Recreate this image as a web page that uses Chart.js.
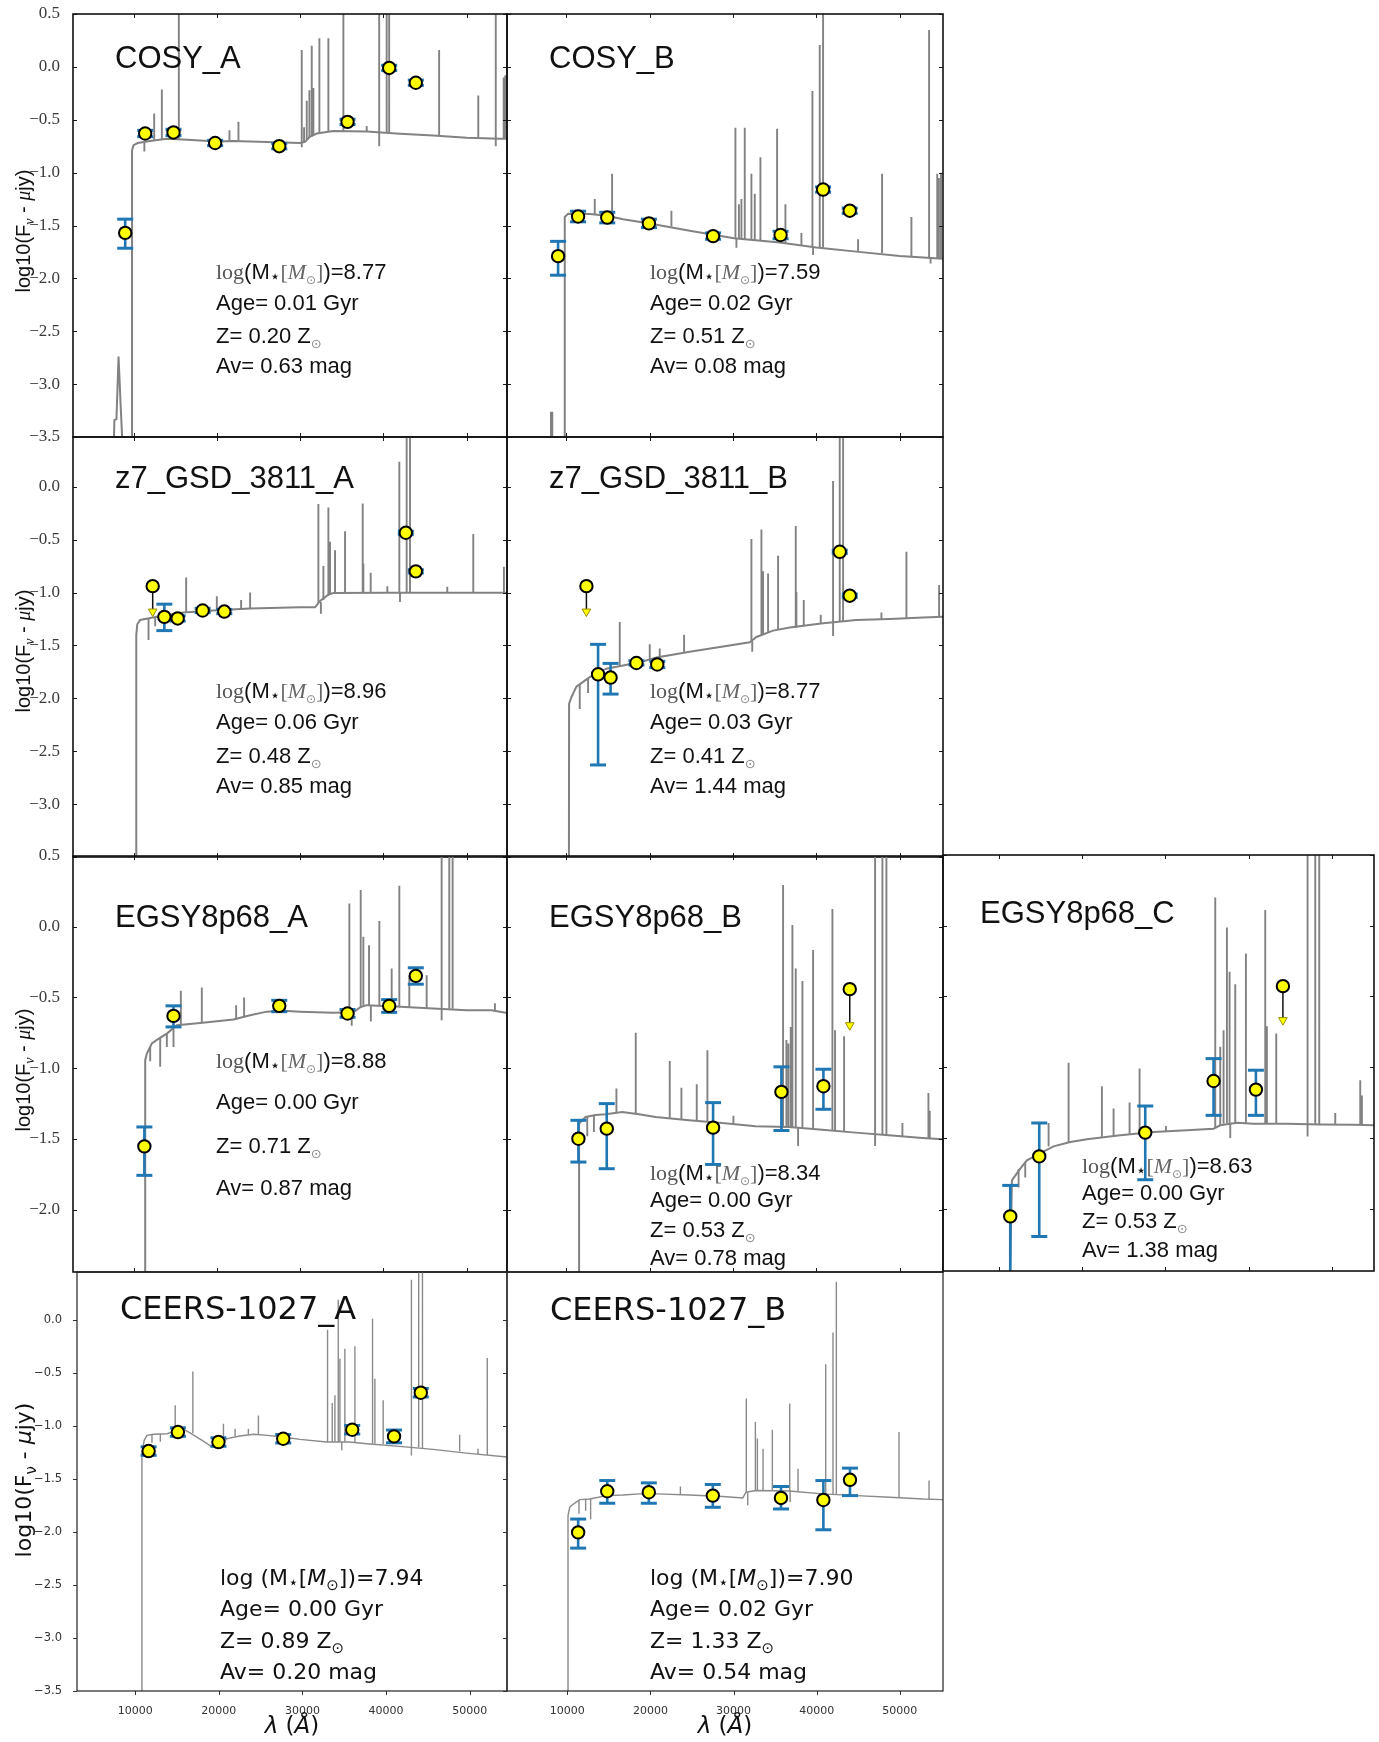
<!DOCTYPE html>
<html>
<head>
<meta charset="utf-8">
<title>SED fits</title>
<script src="https://cdn.jsdelivr.net/npm/chart.js@4.4.1/dist/chart.umd.min.js"></script>
<style>
  html, body { margin: 0; padding: 0; background: #fff; }
  #fig { position: relative; width: 1379px; height: 1742px; overflow: hidden; background: #fff; }
  #fig canvas { position: absolute; }
</style>
</head>
<body>
<div id="fig"></div>
<script>
// ---------------- shared axis ticks ----------------
const X_TICKS = [10000, 20000, 30000, 40000, 50000];
const Y_MARKS_FULL = [0.5, 0.0, -0.5, -1.0, -1.5, -2.0, -2.5, -3.0, -3.5];
const Y_MARKS_SHORT = [0.5, 0.0, -0.5, -1.0, -1.5, -2.0];
const Y_MARKS_LOW = [0.0, -0.5, -1.0, -1.5, -2.0, -2.5, -3.0, -3.5];

// ---------------- fit parameters ----------------
const panelNames = ['COSY_A', 'COSY_B', 'z7_GSD_3811_A', 'z7_GSD_3811_B',
  'EGSY8p68_A', 'EGSY8p68_B', 'EGSY8p68_C', 'CEERS-1027_A', 'CEERS-1027_B'];
const stellarMass = ['8.77', '7.59', '8.96', '8.77', '8.88', '8.34', '8.63', '7.94', '7.90'];
const ageGyr      = ['0.01', '0.02', '0.06', '0.03', '0.00', '0.00', '0.00', '0.00', '0.02'];
const metallicity = ['0.20', '0.51', '0.48', '0.41', '0.71', '0.53', '0.53', '0.89', '1.33'];
const dustAv      = ['0.63', '0.08', '0.85', '1.44', '0.87', '0.78', '1.38', '0.20', '0.54'];

// ---------------- COSY_A ----------------
const cosyA_contL = [7600, 7700, 7950, 8200, 8450, 8750, 9820, 9820, 10000, 10500, 12000, 14000, 16500, 20000, 22000, 26000, 30000, 30600, 31200, 32000, 34000, 38000, 42000, 46000, 50000, 54000, 54900];
const cosyA_contF = [-3.7, -3.34, -3.33, -2.74, -3.2, -3.7, -3.7, -0.79, -0.74, -0.72, -0.70, -0.68, -0.69, -0.705, -0.70, -0.71, -0.72, -0.71, -0.66, -0.63, -0.607, -0.61, -0.633, -0.65, -0.67, -0.68, -0.68];
const cosyA_lines = [[11300,-0.71,-0.80],[12480,-0.70,-0.44],[13400,-0.69,-0.215],[15440,-0.68,0.7],[21520,-0.70,-0.60],[22600,-0.70,-0.52],[30200,-0.72,0.16],[30200,-0.72,-0.76],[30480,-0.71,-0.57],[30800,-0.69,-0.32],[31120,-0.67,-0.22],[31400,-0.66,0.20],[31600,-0.65,-0.20],[32320,-0.63,0.27],[33400,-0.61,0.27],[35200,-0.605,0.7],[38000,-0.61,-0.56],[39500,-0.62,0.7],[39500,-0.62,-0.75],[40400,-0.625,0.7],[40700,-0.625,0.7],[46700,-0.65,0.16],[51400,-0.67,-0.27],[53500,-0.675,0.7],[53500,-0.675,-0.75],[54450,-0.68,-0.10],[54650,-0.68,-0.08]];
const cosyA_photL  = [9000, 11400, 14800, 19800, 27500, 35700, 40700, 43900];
const cosyA_photF  = [-1.57, -0.63, -0.62, -0.72, -0.75, -0.52, -0.01, -0.15];
const cosyA_photLo = [-1.715, -0.66, -0.65, -0.745, -0.775, -0.545, -0.035, -0.175];
const cosyA_photHi = [-1.44, -0.60, -0.59, -0.695, -0.725, -0.495, 0.015, -0.125];

// ---------------- COSY_B ----------------
const cosyB_contL = [7600, 8150, 8150, 8300, 8300, 9800, 9800, 10200, 12800, 14000, 15000, 16800, 20000, 24800, 30100, 35600, 40000, 44800, 50000, 55200];
const cosyB_contF = [-3.7, -3.7, -3.27, -3.27, -3.7, -3.7, -1.42, -1.39, -1.392, -1.40, -1.41, -1.44, -1.481, -1.55, -1.62, -1.66, -1.709, -1.747, -1.788, -1.815];
const cosyB_lines = [[13400,-1.40,-1.25],[15480,-1.41,-1.01],[22600,-1.51,-1.36],[30280,-1.62,-0.576],[30400,-1.62,-1.71],[30700,-1.625,-1.30],[31000,-1.63,-1.25],[31400,-1.63,-0.576],[32200,-1.635,-1.01],[32600,-1.64,-1.20],[33280,-1.64,-0.854],[35280,-1.66,-0.585],[36280,-1.67,-1.30],[38200,-1.69,-1.57],[39520,-1.70,-0.228],[39600,-1.70,-1.78],[40400,-1.705,0.206],[40800,-1.71,0.7],[45000,-1.75,-1.63],[47880,-1.76,-1.01],[51400,-1.79,-1.42],[53520,-1.80,0.348],[53700,-1.80,-1.86],[54500,-1.81,-1.01],[54700,-1.81,-1.05],[54950,-1.815,-1.0]];
const cosyB_photL  = [9000, 11400, 14900, 19900, 27600, 35700, 40800, 44000];
const cosyB_photF  = [-1.79, -1.415, -1.425, -1.48, -1.60, -1.59, -1.16, -1.36];
const cosyB_photLo = [-1.97, -1.465, -1.475, -1.52, -1.63, -1.625, -1.185, -1.385];
const cosyB_photHi = [-1.65, -1.365, -1.375, -1.44, -1.57, -1.555, -1.135, -1.335];

// ---------------- z7_GSD_3811_A ----------------
const z7A_contL = [10300, 10330, 10450, 10800, 12800, 16000, 20000, 24000, 30000, 31800, 32400, 33400, 34000, 40000, 50000, 55000];
const z7A_contF = [-3.7, -1.40, -1.30, -1.26, -1.23, -1.19, -1.167, -1.15, -1.14, -1.14, -1.08, -1.02, -1.005, -1.003, -1.003, -1.003];
const z7A_lines = [[11800,-1.25,-1.45],[12600,-1.23,-1.32],[16320,-1.19,-0.858],[20000,-1.167,-1.035],[22920,-1.16,-1.07],[24000,-1.15,-1.0],[32200,-1.10,-0.164],[32500,-1.09,-1.20],[32800,-1.07,-0.75],[33400,-1.03,-0.196],[33600,-1.02,-0.52],[34200,-1.005,-0.60],[35400,-1.003,-0.42],[37520,-1.003,-0.158],[37600,-1.003,-0.726],[38480,-1.003,-0.814],[40480,-1.003,-0.94],[41920,-1.003,0.237],[42000,-1.003,-1.09],[42800,-1.003,0.7],[43200,-1.003,0.7],[47680,-1.003,-0.946],[50800,-1.003,-0.448],[54480,-1.003,-0.757]];
const z7A_photL  = [13700, 15300, 18300, 20900, 42700, 43900];
const z7A_photF  = [-1.23, -1.245, -1.17, -1.18, -0.435, -0.80];
const z7A_photLo = [-1.36, -1.27, -1.19, -1.20, -0.45, -0.815];
const z7A_photHi = [-1.11, -1.22, -1.15, -1.16, -0.42, -0.785];
const z7A_ulL = [12300];
const z7A_ulF = [-0.94];
const z7A_ulTip = [-1.18];

// ---------------- z7_GSD_3811_B ----------------
const z7B_contL = [10300, 10320, 10600, 11200, 12000, 12800, 14000, 14800, 16800, 18800, 20800, 24800, 28800, 32000, 32800, 34800, 36800, 40800, 44800, 48800, 52800, 55200];
const z7B_contF = [-3.7, -2.05, -1.99, -1.89, -1.845, -1.80, -1.75, -1.72, -1.69, -1.66, -1.615, -1.56, -1.51, -1.47, -1.42, -1.36, -1.33, -1.29, -1.26, -1.25, -1.235, -1.23];
const z7B_lines = [[11600,-1.87,-2.10],[12600,-1.81,-1.95],[16400,-1.70,-1.278],[20000,-1.63,-1.49],[21200,-1.61,-1.53],[24120,-1.57,-1.40],[32200,-1.46,-0.495],[32300,-1.46,-1.56],[33400,-1.40,-0.404],[33600,-1.40,-0.80],[34200,-1.38,-0.82],[35400,-1.35,-0.653],[37520,-1.33,-0.372],[37600,-1.33,-0.994],[38480,-1.32,-1.07],[40520,-1.29,-1.21],[42000,-1.28,0.054],[42000,-1.28,-1.41],[42800,-1.275,0.7],[43200,-1.27,0.7],[47800,-1.255,-1.19],[50800,-1.245,-0.615],[54720,-1.23,-0.93]];
const z7B_photL  = [13800, 15300, 18400, 20900, 42800, 44000];
const z7B_photF  = [-1.773, -1.804, -1.666, -1.68, -0.615, -1.03];
const z7B_photLo = [-2.63, -1.96, -1.685, -1.71, -0.63, -1.045];
const z7B_photHi = [-1.49, -1.67, -1.645, -1.65, -0.60, -1.015];
const z7B_ulL = [12400];
const z7B_ulF = [-0.94];
const z7B_ulTip = [-1.18];

// ---------------- EGSY8p68_A ----------------
const egsyA_contL = [11400, 11400, 11600, 12200, 12800, 14000, 15200, 18000, 20000, 22000, 24000, 26000, 28000, 30000, 34000, 36400, 37200, 38000, 42000, 46000, 50000, 53000, 54900];
const egsyA_contF = [-2.6, -0.943, -0.896, -0.825, -0.80, -0.755, -0.696, -0.68, -0.668, -0.656, -0.625, -0.60, -0.594, -0.60, -0.608, -0.604, -0.57, -0.554, -0.566, -0.577, -0.59, -0.59, -0.61];
const egsyA_lines = [[12000,-0.85,-0.95],[13200,-0.78,-0.99],[14000,-0.755,-0.85],[14800,-0.72,-0.85],[15680,-0.69,-0.453],[18200,-0.675,-0.43],[22320,-0.655,-0.554],[23280,-0.64,-0.50],[35920,-0.605,0.165],[36200,-0.605,-0.70],[37280,-0.57,0.259],[37600,-0.565,-0.07],[38280,-0.555,-0.13],[38500,-0.555,-0.67],[39520,-0.558,0.04],[41000,-0.563,-0.295],[41920,-0.566,0.29],[43120,-0.57,-0.342],[45200,-0.575,-0.342],[47000,-0.58,0.7],[47000,-0.58,-0.66],[47920,-0.58,0.7],[48320,-0.58,0.7],[53400,-0.59,-0.54]];
const egsyA_photL  = [11300, 14800, 27500, 35700, 40700, 43900];
const egsyA_photF  = [-1.552, -0.63, -0.559, -0.613, -0.559, -0.347];
const egsyA_photLo = [-1.757, -0.708, -0.60, -0.64, -0.605, -0.406];
const egsyA_photHi = [-1.415, -0.559, -0.52, -0.585, -0.515, -0.29];

// ---------------- EGSY8p68_B ----------------
const egsyB_contL = [11520, 11520, 12300, 13500, 14700, 16700, 18700, 20700, 24700, 28700, 32700, 36700, 40700, 44700, 48700, 52700, 55200];
const egsyB_contF = [-2.6, -1.39, -1.344, -1.33, -1.325, -1.31, -1.325, -1.344, -1.368, -1.387, -1.41, -1.415, -1.434, -1.455, -1.474, -1.493, -1.502];
const egsyB_lines = [[12500,-1.34,-1.48],[13300,-1.33,-1.45],[16000,-1.31,-1.144],[18320,-1.32,-0.75],[22400,-1.35,-0.948],[23800,-1.36,-1.137],[25640,-1.37,-1.113],[26920,-1.38,-0.873],[30040,-1.395,-1.335],[36000,-1.415,0.295],[36400,-1.415,-0.80],[36640,-1.415,-0.825],[36920,-1.415,-0.708],[37120,-1.415,0.012],[37520,-1.42,-0.295],[37800,-1.42,-1.55],[38320,-1.425,-0.384],[39600,-1.43,-0.165],[41920,-1.44,0.125],[42240,-1.44,-0.731],[43320,-1.445,-0.774],[47040,-1.465,0.7],[47040,-1.465,-1.55],[47920,-1.47,0.7],[48400,-1.472,0.7],[50320,-1.48,-1.387],[53440,-1.495,-1.175],[53600,-1.495,-1.30]];
const egsyB_photL  = [11440, 14840, 27600, 35800, 40840];
const egsyB_photF  = [-1.498, -1.427, -1.42, -1.167, -1.127];
const egsyB_photLo = [-1.663, -1.71, -1.68, -1.44, -1.29];
const egsyB_photHi = [-1.368, -1.25, -1.243, -0.99, -1.007];
const egsyB_ulL = [44000];
const egsyB_ulF = [-0.441];
const egsyB_ulTip = [-0.696];

// ---------------- EGSY8p68_C ----------------
const egsyC_contL = [11350, 11600, 12600, 13400, 14900, 16600, 18600, 20600, 24600, 28600, 32600, 35800, 36600, 38600, 40600, 44600, 48600, 52600, 55100];
const egsyC_contF = [-2.6, -1.80, -1.717, -1.658, -1.611, -1.559, -1.528, -1.509, -1.48, -1.458, -1.446, -1.434, -1.41, -1.392, -1.399, -1.399, -1.404, -1.406, -1.41];
const egsyC_lines = [[12400,-1.72,-1.85],[13200,-1.67,-1.78],[16000,-1.56,-1.394],[18400,-1.53,-0.969],[22400,-1.50,-1.134],[23800,-1.49,-1.292],[25720,-1.475,-1.25],[26920,-1.47,-1.009],[30080,-1.455,-1.415],[36000,-1.43,0.2],[36600,-1.41,-0.856],[37000,-1.40,-0.738],[37400,-1.395,-0.012],[37720,-1.395,-0.325],[37800,-1.395,-1.50],[38400,-1.392,-0.413],[39680,-1.395,-0.196],[42000,-1.399,0.111],[42200,-1.399,-0.71],[43320,-1.399,-0.762],[47080,-1.402,0.7],[47080,-1.402,-1.49],[48000,-1.403,0.7],[48480,-1.404,0.7],[50400,-1.405,-1.323],[53400,-1.407,-1.092],[53600,-1.407,-1.20]];
const egsyC_photL  = [11400, 14880, 27600, 35800, 40880];
const egsyC_photF  = [-2.054, -1.63, -1.462, -1.097, -1.158];
const egsyC_photLo = [-2.6, -2.196, -1.795, -1.34, -1.34];
const egsyC_photHi = [-1.835, -1.394, -1.274, -0.939, -1.021];
const egsyC_ulL = [44120];
const egsyC_ulF = [-0.427];
const egsyC_ulTip = [-0.667];

// ---------------- CEERS-1027_A ----------------
const ceersA_contL = [10800, 10800, 11070, 11400, 12200, 13800, 14800, 15600, 16400, 18000, 19200, 20200, 21000, 22500, 24200, 25800, 27700, 29700, 32900, 35600, 37700, 41600, 45600, 49600, 54500];
const ceersA_contF = [-3.7, -1.263, -1.137, -1.09, -1.08, -1.075, -1.05, -1.027, -1.06, -1.137, -1.20, -1.184, -1.12, -1.096, -1.08, -1.09, -1.106, -1.128, -1.153, -1.153, -1.169, -1.194, -1.222, -1.257, -1.294];
const ceersA_lines = [[12000,-1.08,-1.16],[13000,-1.078,-1.15],[14780,-1.05,-0.807],[16890,-1.07,-0.487],[20550,-1.18,-0.98],[21940,-1.10,-1.027],[23530,-1.085,-1.027],[24730,-1.085,-0.902],[33000,-1.153,-0.094],[33560,-1.153,-0.785],[33880,-1.153,-0.713],[34280,-1.153,0.189],[34480,-1.153,-0.368],[34700,-1.153,-1.23],[35070,-1.153,-0.273],[36270,-1.155,-0.251],[38380,-1.17,0.009],[38660,-1.17,-0.556],[39650,-1.175,-0.76],[43030,-1.20,0.377],[43030,-1.20,-1.28],[43900,-1.205,0.7],[44350,-1.21,0.7],[48800,-1.24,-1.084],[50990,-1.265,-1.216],[52100,-1.275,-0.361]];
const ceersA_photL  = [11600, 15100, 19950, 27700, 35950, 40950, 44150];
const ceersA_photF  = [-1.238, -1.059, -1.153, -1.122, -1.037, -1.10, -0.688];
const ceersA_photLo = [-1.278, -1.099, -1.193, -1.162, -1.077, -1.16, -0.728];
const ceersA_photHi = [-1.198, -1.019, -1.113, -1.082, -0.997, -1.04, -0.648];

// ---------------- CEERS-1027_B ----------------
const ceersB_contL = [10080, 10080, 10280, 10680, 11480, 12680, 14690, 16700, 18700, 20700, 24700, 28700, 31100, 31500, 32700, 36700, 40700, 44800, 48800, 52800, 55200];
const ceersB_contF = [-3.7, -1.847, -1.768, -1.74, -1.696, -1.69, -1.658, -1.652, -1.642, -1.642, -1.652, -1.667, -1.68, -1.626, -1.61, -1.615, -1.642, -1.658, -1.673, -1.69, -1.696];
const ceersB_lines = [[11400,-1.70,-1.83],[12200,-1.69,-1.80],[12800,-1.69,-1.88],[23600,-1.645,-1.572],[31530,-1.63,-0.742],[31700,-1.63,-1.75],[32620,-1.61,-0.963],[32860,-1.61,-1.12],[33540,-1.61,-1.216],[34660,-1.612,-1.036],[36750,-1.615,-0.789],[36800,-1.615,-1.72],[37750,-1.62,-1.405],[41080,-1.643,-0.42],[41960,-1.646,-0.12],[42360,-1.648,0.357],[49900,-1.67,-1.058],[53510,-1.69,-1.516]];
const ceersB_photL  = [11300, 14800, 19800, 27500, 35700, 40800, 44000];
const ceersB_photF  = [-2.005, -1.617, -1.626, -1.658, -1.68, -1.699, -1.509];
const ceersB_photLo = [-2.153, -1.73, -1.73, -1.768, -1.784, -1.98, -1.658];
const ceersB_photHi = [-1.879, -1.516, -1.538, -1.553, -1.572, -1.516, -1.399];

// ---------------- per-panel series lookup ----------------
const SERIES = [
  { cL: cosyA_contL, cF: cosyA_contF, lines: cosyA_lines, pL: cosyA_photL, pF: cosyA_photF, pLo: cosyA_photLo, pHi: cosyA_photHi },
  { cL: cosyB_contL, cF: cosyB_contF, lines: cosyB_lines, pL: cosyB_photL, pF: cosyB_photF, pLo: cosyB_photLo, pHi: cosyB_photHi },
  { cL: z7A_contL, cF: z7A_contF, lines: z7A_lines, pL: z7A_photL, pF: z7A_photF, pLo: z7A_photLo, pHi: z7A_photHi, uL: z7A_ulL, uF: z7A_ulF, uT: z7A_ulTip },
  { cL: z7B_contL, cF: z7B_contF, lines: z7B_lines, pL: z7B_photL, pF: z7B_photF, pLo: z7B_photLo, pHi: z7B_photHi, uL: z7B_ulL, uF: z7B_ulF, uT: z7B_ulTip },
  { cL: egsyA_contL, cF: egsyA_contF, lines: egsyA_lines, pL: egsyA_photL, pF: egsyA_photF, pLo: egsyA_photLo, pHi: egsyA_photHi },
  { cL: egsyB_contL, cF: egsyB_contF, lines: egsyB_lines, pL: egsyB_photL, pF: egsyB_photF, pLo: egsyB_photLo, pHi: egsyB_photHi, uL: egsyB_ulL, uF: egsyB_ulF, uT: egsyB_ulTip },
  { cL: egsyC_contL, cF: egsyC_contF, lines: egsyC_lines, pL: egsyC_photL, pF: egsyC_photF, pLo: egsyC_photLo, pHi: egsyC_photHi, uL: egsyC_ulL, uF: egsyC_ulF, uT: egsyC_ulTip },
  { cL: ceersA_contL, cF: ceersA_contF, lines: ceersA_lines, pL: ceersA_photL, pF: ceersA_photF, pLo: ceersA_photLo, pHi: ceersA_photHi },
  { cL: ceersB_contL, cF: ceersB_contF, lines: ceersB_lines, pL: ceersB_photL, pF: ceersB_photF, pLo: ceersB_photLo, pHi: ceersB_photHi }
];

// ---------------- page layout of each panel (pixels) ----------------
const BOX = [
  { l: 73,  r: 507,  t: 14,   b: 437,  xr: [2730, 54850], yr: [-3.5, 0.5],  modern: false, left: true,  xAxis: false, marks: Y_MARKS_FULL,  labels: Y_MARKS_FULL, title: [115, 68],   tx: 216, ty: [279, 310, 343, 373],     yTitle: 231 },
  { l: 507, r: 943,  t: 14,   b: 437,  xr: [2870, 55190], yr: [-3.5, 0.5],  modern: false, left: false, xAxis: false, marks: Y_MARKS_FULL,  title: [549, 68],   tx: 650, ty: [279, 310, 343, 373] },
  { l: 73,  r: 507,  t: 437,  b: 857,  xr: [2730, 54850], yr: [-3.5, 0.47], modern: false, left: true,  xAxis: false, marks: Y_MARKS_FULL,  labels: [0.0, -0.5, -1.0, -1.5, -2.0, -2.5, -3.0], title: [115, 488], tx: 216, ty: [698, 729, 763, 793], yTitle: 651 },
  { l: 507, r: 943,  t: 437,  b: 857,  xr: [2870, 55190], yr: [-3.5, 0.47], modern: false, left: false, xAxis: false, marks: Y_MARKS_FULL,  title: [549, 488],  tx: 650, ty: [698, 729, 763, 793] },
  { l: 73,  r: 507,  t: 856,  b: 1272, xr: [2730, 54850], yr: [-2.44, 0.5], modern: false, left: true,  xAxis: false, marks: Y_MARKS_SHORT, labels: Y_MARKS_SHORT, title: [115, 927], tx: 216, ty: [1068, 1109, 1153, 1195], yTitle: 1070 },
  { l: 507, r: 943,  t: 856,  b: 1272, xr: [2870, 55190], yr: [-2.44, 0.5], modern: false, left: false, xAxis: false, marks: Y_MARKS_SHORT, title: [549, 927],  tx: 650, ty: [1180, 1207, 1237, 1265] },
  { l: 943, r: 1374, t: 855,  b: 1271, xr: [3330, 55050], yr: [-2.44, 0.5], modern: false, left: false, xAxis: false, marks: Y_MARKS_SHORT, title: [980, 923],  tx: 1082, ty: [1173, 1200, 1228, 1257] },
  { l: 77,  r: 507,  t: 1272, b: 1691, xr: [3035, 54460], yr: [-3.5, 0.45], modern: true,  left: true,  xAxis: true,  marks: Y_MARKS_LOW,   labels: Y_MARKS_LOW, title: [120, 1319], tx: 220, ty: [1585, 1616, 1648, 1679], yTitle: 1480 },
  { l: 507, r: 943,  t: 1272, b: 1691, xr: [2740, 55190], yr: [-3.5, 0.45], modern: true,  left: false, xAxis: true,  marks: Y_MARKS_LOW,   title: [550, 1320], tx: 650, ty: [1585, 1616, 1648, 1679] }
];

const PAGE_H = 1742;
const GAP = 24;

const SANS = '"Liberation Sans", Arial, sans-serif';
const SERIF = '"Liberation Serif", serif';
const DJ = '"DejaVu Sans", sans-serif';

function signed(v) {
  const s = Math.abs(v).toFixed(1);
  return (v < 0 ? '\u2212' : '') + s;
}

function richWidth(ctx, segs) {
  let w = 0;
  segs.forEach(s => { ctx.font = s.f; w += ctx.measureText(s.t).width; });
  return w;
}
function drawRich(ctx, segs, x, y) {
  segs.forEach(s => {
    ctx.font = s.f;
    ctx.fillStyle = s.c || '#111';
    ctx.fillText(s.t, x, y + (s.dy || 0));
    x += ctx.measureText(s.t).width;
  });
}

function annotationLines(i, modern) {
  if (!modern) {
    const F = '22px ' + SANS;
    return [
      [{ t: 'log', f: '22px ' + SERIF, c: '#555' }, { t: '(M', f: F }, { t: '\u22c6', f: '17px ' + DJ, dy: 3 },
       { t: '[', f: '22px ' + SERIF, c: '#666' }, { t: 'M', f: 'italic 22px ' + SERIF, c: '#666' },
       { t: '\u2299', f: '12px ' + DJ, c: '#888', dy: 5 }, { t: ']', f: '22px ' + SERIF, c: '#666' },
       { t: ')=' + stellarMass[i], f: F }],
      [{ t: 'Age= ' + ageGyr[i] + ' Gyr', f: F }],
      [{ t: 'Z= ' + metallicity[i] + ' Z', f: F }, { t: '\u2299', f: '13px ' + DJ, c: '#888', dy: 5 }],
      [{ t: 'Av= ' + dustAv[i] + ' mag', f: F }]
    ];
  }
  const D = '22px ' + DJ;
  return [
    [{ t: 'log (M', f: D }, { t: '\u22c6', f: '17px ' + DJ, dy: 3 }, { t: '[', f: D },
     { t: 'M', f: 'italic 22px ' + DJ }, { t: '\u2299', f: '15px ' + DJ, dy: 5 }, { t: '])=' + stellarMass[i], f: D }],
    [{ t: 'Age= ' + ageGyr[i] + ' Gyr', f: D }],
    [{ t: 'Z= ' + metallicity[i] + ' Z', f: D }, { t: '\u2299', f: '15px ' + DJ, dy: 5 }],
    [{ t: 'Av= ' + dustAv[i] + ' mag', f: D }]
  ];
}

function yTitleSegs(modern) {
  if (!modern) {
    const F = '20px ' + SANS;
    return [{ t: 'log10(F', f: F }, { t: '\u03bd', f: 'italic 14px ' + SERIF, dy: 4 }, { t: ' - ', f: F },
            { t: '\u03bc', f: 'italic 20px ' + SERIF }, { t: 'jy)', f: F }];
  }
  const D = '22px ' + DJ;
  return [{ t: 'log10(F', f: D }, { t: '\u03bd', f: '15px ' + DJ, dy: 5 }, { t: ' - ', f: D },
          { t: '\u03bc', f: 'italic 22px ' + DJ }, { t: 'jy)', f: D }];
}

// frame, inward/outward tick marks, panel name, fit parameters and axis titles
const panelDeco = {
  id: 'panelDeco',
  afterDraw(chart, args, opts) {
    const i = opts.index;
    const box = BOX[i];
    const ctx = chart.ctx;
    const a = chart.chartArea;
    const xs = chart.scales.x, ys = chart.scales.y;
    const ox = chart.canvas.__ox, oy = chart.canvas.__oy;
    ctx.save();

    // tick marks
    ctx.strokeStyle = box.modern ? '#333' : '#1a1a1a';
    ctx.lineWidth = 1;
    ctx.beginPath();
    X_TICKS.forEach(v => {
      if (v < box.xr[0] || v > box.xr[1]) return;
      const px = Math.round(xs.getPixelForValue(v)) + 0.5;
      if (box.modern) {
        ctx.moveTo(px, a.bottom); ctx.lineTo(px, a.bottom + 4);
      } else {
        ctx.moveTo(px, a.top); ctx.lineTo(px, a.top + 4);
        ctx.moveTo(px, a.bottom); ctx.lineTo(px, a.bottom - 4);
      }
    });
    box.marks.forEach(v => {
      if (v < box.yr[0] || v > box.yr[1]) return;
      const py = Math.round(ys.getPixelForValue(v)) + 0.5;
      if (box.modern) {
        ctx.moveTo(a.left, py); ctx.lineTo(a.left - 4, py);
      } else {
        ctx.moveTo(a.left, py); ctx.lineTo(a.left + 4, py);
        ctx.moveTo(a.right, py); ctx.lineTo(a.right - 4, py);
      }
    });
    ctx.stroke();

    // frame
    ctx.lineWidth = box.modern ? 1.2 : 1.6;
    ctx.strokeStyle = box.modern ? '#222' : '#111';
    ctx.strokeRect(a.left, a.top, a.right - a.left, a.bottom - a.top);

    // panel name
    ctx.textBaseline = 'alphabetic';
    ctx.textAlign = 'left';
    ctx.fillStyle = '#111';
    ctx.font = box.modern ? '32px ' + DJ : '31px ' + SANS;
    ctx.fillText(panelNames[i], box.title[0] - ox, box.title[1] - oy);

    // fit parameters
    annotationLines(i, box.modern).forEach((segs, k) => {
      drawRich(ctx, segs, box.tx - ox, box.ty[k] - oy);
    });

    // y-axis title
    if (box.left) {
      const segs = yTitleSegs(box.modern);
      const size = box.modern ? 22 : 20;
      ctx.save();
      ctx.translate(23 - ox, box.yTitle - oy);
      ctx.rotate(-Math.PI / 2);
      const w = richWidth(ctx, segs);
      drawRich(ctx, segs, -w / 2, size * 0.35);
      ctx.restore();
    }

    // x-axis title
    if (box.xAxis) {
      const segs = [{ t: '\u03bb', f: 'italic 23px ' + DJ }, { t: ' (', f: '23px ' + DJ },
                    { t: '\u00c5', f: 'italic 23px ' + DJ }, { t: ')', f: '23px ' + DJ }];
      const w = richWidth(ctx, segs);
      const cx = (a.left + a.right) / 2;
      drawRich(ctx, segs, cx - w / 2, 1733 - oy);
    }
    ctx.restore();
  }
};

function buildDatasets(s, modern) {
  const grey = modern ? '#8a8a8a' : '#828282';
  const ds = [];
  ds.push({ type: 'line', data: s.cL.map((x, k) => ({ x, y: s.cF[k] })), borderColor: grey,
            borderWidth: modern ? 1.4 : 2, pointRadius: 0, tension: 0, clip: 0, order: 10 });
  const spikes = [];
  s.lines.forEach(([x, b, p]) => { spikes.push({ x, y: b }, { x, y: p }, { x, y: null }); });
  ds.push({ type: 'line', data: spikes, borderColor: grey, borderWidth: modern ? 1.4 : 1.9,
            pointRadius: 0, spanGaps: false, clip: 0, order: 9 });

  const bars = [], caps = [];
  s.pL.forEach((x, k) => {
    bars.push({ x, y: s.pLo[k] }, { x, y: s.pHi[k] }, { x, y: null });
    caps.push({ x, y: s.pLo[k] }, { x, y: s.pHi[k] });
  });
  ds.push({ type: 'line', data: bars, borderColor: '#1f77b4', borderWidth: 2.6, pointRadius: 0,
            spanGaps: false, clip: 0, order: 6 });
  ds.push({ type: 'scatter', data: caps, pointStyle: 'line', pointRadius: 8, pointBorderColor: '#1f77b4',
            pointBorderWidth: 3, clip: 0, order: 5 });

  const dots = s.pL.map((x, k) => ({ x, y: s.pF[k] }));
  if (s.uL) {
    const stems = [], tips = [];
    s.uL.forEach((x, k) => {
      stems.push({ x, y: s.uF[k] }, { x, y: s.uT[k] }, { x, y: null });
      tips.push({ x, y: s.uT[k] });
      dots.push({ x, y: s.uF[k] });
    });
    ds.push({ type: 'line', data: stems, borderColor: '#111', borderWidth: 1.5, pointRadius: 0,
              spanGaps: false, order: 4 });
    ds.push({ type: 'scatter', data: tips, pointStyle: 'triangle', pointRotation: 180, pointRadius: 5,
              pointBackgroundColor: '#ffff00', pointBorderColor: '#9c8c00', pointBorderWidth: 1, order: 3 });
  }
  ds.push({ type: 'scatter', data: dots, pointStyle: 'circle', pointRadius: 6.2, pointBackgroundColor: '#ffff00',
            pointBorderColor: '#000', pointBorderWidth: 2, order: 1 });
  return ds;
}

const fig = document.getElementById('fig');

BOX.forEach((box, i) => {
  const ML = box.left ? box.l : GAP;
  const MT = GAP;
  const MR = GAP;
  const MB = box.xAxis ? PAGE_H - box.b : GAP;
  const cx = box.l - ML, cy = box.t - MT;
  const W = (box.r - box.l) + ML + MR;
  const H = (box.b - box.t) + MT + MB;

  const canvas = document.createElement('canvas');
  canvas.width = W; canvas.height = H;
  canvas.style.left = cx + 'px'; canvas.style.top = cy + 'px';
  canvas.style.width = W + 'px'; canvas.style.height = H + 'px';
  canvas.__ox = cx; canvas.__oy = cy;
  fig.appendChild(canvas);

  const yFont = box.modern ? { family: DJ, size: 11.5 } : { family: SERIF, size: 17 };

  new Chart(canvas, {
    type: 'scatter',
    data: { datasets: buildDatasets(SERIES[i], box.modern) },
    options: {
      responsive: false,
      maintainAspectRatio: false,
      animation: false,
      events: [],
      devicePixelRatio: 1,
      layout: { padding: { left: box.left ? 0 : ML, right: MR, top: MT, bottom: box.xAxis ? 0 : MB } },
      plugins: {
        legend: { display: false },
        tooltip: { enabled: false },
        panelDeco: { index: i }
      },
      scales: {
        x: {
          type: 'linear', position: 'bottom', min: box.xr[0], max: box.xr[1],
          display: box.xAxis,
          grid: { display: false }, border: { display: false },
          afterBuildTicks: ax => { ax.ticks = X_TICKS.map(v => ({ value: v })); },
          afterFit: ax => { ax.height = box.xAxis ? MB : 0; },
          ticks: { font: { family: DJ, size: 11 }, color: '#333', padding: 6, maxRotation: 0, autoSkip: false,
                   callback: v => String(v) }
        },
        y: {
          type: 'linear', position: 'left', min: box.yr[0], max: box.yr[1],
          display: box.left,
          grid: { display: false }, border: { display: false },
          afterBuildTicks: ax => { ax.ticks = (box.labels || box.marks).map(v => ({ value: v })); },
          afterFit: ax => { ax.width = box.left ? ML : 0; },
          ticks: { font: yFont, color: box.modern ? '#333' : '#3a3a3a', padding: box.modern ? 7 : 5,
                   autoSkip: false, callback: v => signed(v) }
        }
      }
    },
    plugins: [panelDeco]
  });
});
</script>
</body>
</html>
